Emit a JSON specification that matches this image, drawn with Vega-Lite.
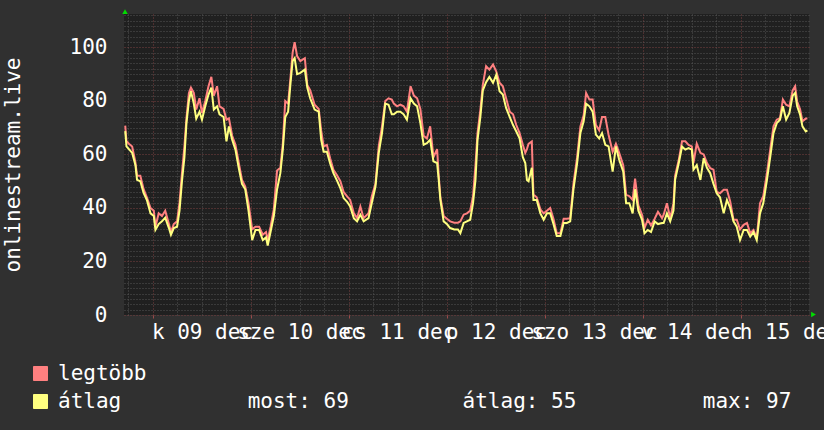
{
  "$schema": "https://vega.github.io/schema/vega-lite/v6.json",
  "width": 685,
  "height": 301,
  "autosize": "none",
  "padding": {"left": 124, "top": 14, "right": 15, "bottom": 115},
  "background": "#303030",
  "config": {
    "view": {"fill": "#202020", "stroke": null},
    "font": "DejaVu Sans Mono",
    "axis": {
      "labelFont": "DejaVu Sans Mono",
      "titleFont": "DejaVu Sans Mono",
      "labelColor": "#ffffff",
      "titleColor": "#ffffff",
      "labelFontSize": 21,
      "titleFontSize": 21,
      "titleFontWeight": "normal",
      "domain": false
    }
  },
  "data": {
    "values": [
      {"hour": -6.8, "max": 70.8, "avg": 68.7},
      {"hour": -6.5, "max": 65, "avg": 63},
      {"hour": -5.9, "max": 64, "avg": 62},
      {"hour": -5.1, "max": 63, "avg": 60.6},
      {"hour": -4.3, "max": 57, "avg": 56},
      {"hour": -3.9, "max": 52, "avg": 50.5},
      {"hour": -3.1, "max": 52, "avg": 50},
      {"hour": -2.3, "max": 47, "avg": 45.6},
      {"hour": -1.5, "max": 44, "avg": 43},
      {"hour": -0.6, "max": 40, "avg": 38},
      {"hour": 0.2, "max": 39, "avg": 37},
      {"hour": 0.6, "max": 33, "avg": 31.8},
      {"hour": 1.4, "max": 38, "avg": 34},
      {"hour": 2.2, "max": 37, "avg": 35},
      {"hour": 3.0, "max": 39, "avg": 36.4},
      {"hour": 3.9, "max": 34, "avg": 32.5},
      {"hour": 4.4, "max": 31, "avg": 30},
      {"hour": 5.1, "max": 34, "avg": 32.5},
      {"hour": 5.9, "max": 35, "avg": 33},
      {"hour": 6.5, "max": 42, "avg": 39},
      {"hour": 7.1, "max": 53, "avg": 50},
      {"hour": 7.7, "max": 63, "avg": 59},
      {"hour": 8.2, "max": 73.5, "avg": 71.7},
      {"hour": 8.8, "max": 83, "avg": 80},
      {"hour": 9.3, "max": 85, "avg": 83.6},
      {"hour": 10.0, "max": 83, "avg": 79},
      {"hour": 10.6, "max": 76.8, "avg": 73.4},
      {"hour": 11.4, "max": 81, "avg": 76},
      {"hour": 12.0, "max": 75.5, "avg": 73},
      {"hour": 12.8, "max": 80, "avg": 78},
      {"hour": 13.6, "max": 85.5, "avg": 82.4},
      {"hour": 14.3, "max": 89, "avg": 85},
      {"hour": 14.9, "max": 82, "avg": 76.8},
      {"hour": 15.7, "max": 85.5, "avg": 78},
      {"hour": 16.3, "max": 78, "avg": 75},
      {"hour": 17.3, "max": 77, "avg": 74},
      {"hour": 18.0, "max": 73, "avg": 64.9},
      {"hour": 18.6, "max": 73.5, "avg": 70.5},
      {"hour": 19.4, "max": 67, "avg": 65.5},
      {"hour": 20.2, "max": 63.6, "avg": 61.8},
      {"hour": 21.0, "max": 57, "avg": 55},
      {"hour": 21.8, "max": 50.5, "avg": 49},
      {"hour": 22.6, "max": 48, "avg": 47},
      {"hour": 23.4, "max": 41.8, "avg": 39},
      {"hour": 24.3, "max": 32, "avg": 28},
      {"hour": 25.1, "max": 33, "avg": 31.8},
      {"hour": 26.0, "max": 33, "avg": 31.8},
      {"hour": 26.9, "max": 30, "avg": 28},
      {"hour": 27.7, "max": 31, "avg": 29},
      {"hour": 28.1, "max": 28, "avg": 26},
      {"hour": 28.8, "max": 33, "avg": 31},
      {"hour": 29.6, "max": 39.5, "avg": 37},
      {"hour": 30.4, "max": 54, "avg": 47},
      {"hour": 31.2, "max": 55, "avg": 53},
      {"hour": 31.8, "max": 64, "avg": 61.8},
      {"hour": 32.4, "max": 80, "avg": 74},
      {"hour": 33.1, "max": 79, "avg": 76},
      {"hour": 33.7, "max": 89, "avg": 86.8},
      {"hour": 34.2, "max": 98, "avg": 94.9},
      {"hour": 34.7, "max": 102, "avg": 96},
      {"hour": 35.3, "max": 96.8, "avg": 90},
      {"hour": 36.1, "max": 94.9, "avg": 90.5},
      {"hour": 37.2, "max": 96, "avg": 91.7},
      {"hour": 37.8, "max": 86, "avg": 85},
      {"hour": 38.5, "max": 84, "avg": 81},
      {"hour": 39.6, "max": 78.6, "avg": 76.8},
      {"hour": 40.6, "max": 77, "avg": 76},
      {"hour": 41.2, "max": 69, "avg": 65.5},
      {"hour": 41.8, "max": 63, "avg": 61},
      {"hour": 42.6, "max": 63.6, "avg": 61},
      {"hour": 43.4, "max": 58.6, "avg": 56.6},
      {"hour": 44.2, "max": 54.3, "avg": 53},
      {"hour": 45.0, "max": 52.4, "avg": 50.5},
      {"hour": 45.9, "max": 50, "avg": 47.4},
      {"hour": 46.7, "max": 46, "avg": 43.7},
      {"hour": 47.5, "max": 44.4, "avg": 42.4},
      {"hour": 48.3, "max": 43, "avg": 40.6},
      {"hour": 49.2, "max": 38, "avg": 36.2},
      {"hour": 50.0, "max": 36.2, "avg": 35},
      {"hour": 50.8, "max": 40.6, "avg": 37.5},
      {"hour": 51.6, "max": 36.2, "avg": 35},
      {"hour": 52.8, "max": 38, "avg": 36.2},
      {"hour": 53.6, "max": 44.4, "avg": 41.8},
      {"hour": 54.5, "max": 49, "avg": 48},
      {"hour": 55.3, "max": 63, "avg": 60.5},
      {"hour": 56.1, "max": 70.5, "avg": 68},
      {"hour": 56.9, "max": 80, "avg": 79},
      {"hour": 57.7, "max": 81, "avg": 78.6},
      {"hour": 58.5, "max": 80.5, "avg": 75},
      {"hour": 59.0, "max": 79, "avg": 75},
      {"hour": 59.8, "max": 78, "avg": 76},
      {"hour": 60.6, "max": 78.6, "avg": 76},
      {"hour": 61.4, "max": 78, "avg": 75},
      {"hour": 62.2, "max": 76, "avg": 73},
      {"hour": 63.1, "max": 85.5, "avg": 81},
      {"hour": 63.9, "max": 82, "avg": 79},
      {"hour": 64.7, "max": 81, "avg": 78},
      {"hour": 65.5, "max": 77, "avg": 71.7},
      {"hour": 66.3, "max": 67, "avg": 63.6},
      {"hour": 67.1, "max": 66, "avg": 64.2},
      {"hour": 67.9, "max": 70.5, "avg": 65.5},
      {"hour": 68.7, "max": 59, "avg": 57.4},
      {"hour": 69.6, "max": 62, "avg": 56.8},
      {"hour": 70.0, "max": 52, "avg": 50.5},
      {"hour": 70.4, "max": 44, "avg": 43},
      {"hour": 71.2, "max": 37, "avg": 35},
      {"hour": 72.0, "max": 36, "avg": 34},
      {"hour": 72.8, "max": 35, "avg": 32.5},
      {"hour": 73.8, "max": 34.5, "avg": 32},
      {"hour": 74.7, "max": 34.5, "avg": 32},
      {"hour": 75.3, "max": 35, "avg": 30.6},
      {"hour": 76.1, "max": 37.5, "avg": 34.4},
      {"hour": 76.9, "max": 38, "avg": 35},
      {"hour": 77.7, "max": 39, "avg": 35.6},
      {"hour": 78.4, "max": 44.4, "avg": 41.8},
      {"hour": 79.0, "max": 56, "avg": 50.5},
      {"hour": 79.5, "max": 68, "avg": 65.5},
      {"hour": 80.2, "max": 76.8, "avg": 74},
      {"hour": 80.8, "max": 86, "avg": 84},
      {"hour": 81.6, "max": 93, "avg": 87},
      {"hour": 82.4, "max": 91.7, "avg": 89},
      {"hour": 83.3, "max": 93.6, "avg": 86.8},
      {"hour": 84.1, "max": 91, "avg": 89.8},
      {"hour": 84.9, "max": 86.8, "avg": 83.6},
      {"hour": 85.7, "max": 85.5, "avg": 82.4},
      {"hour": 86.5, "max": 81, "avg": 77.4},
      {"hour": 87.4, "max": 76, "avg": 74},
      {"hour": 88.2, "max": 75, "avg": 71},
      {"hour": 89.0, "max": 71, "avg": 68.6},
      {"hour": 89.8, "max": 68, "avg": 66},
      {"hour": 90.6, "max": 63.6, "avg": 59},
      {"hour": 91.2, "max": 60.6, "avg": 56.8},
      {"hour": 91.6, "max": 62, "avg": 50.5},
      {"hour": 92.0, "max": 64, "avg": 50},
      {"hour": 92.8, "max": 64.9, "avg": 55},
      {"hour": 93.2, "max": 45, "avg": 43},
      {"hour": 94.0, "max": 44, "avg": 43},
      {"hour": 94.9, "max": 39.5, "avg": 38},
      {"hour": 95.7, "max": 38, "avg": 35.6},
      {"hour": 96.5, "max": 39, "avg": 38},
      {"hour": 97.3, "max": 40, "avg": 38},
      {"hour": 98.1, "max": 36, "avg": 34},
      {"hour": 98.9, "max": 30.6, "avg": 29.5},
      {"hour": 99.8, "max": 30.6, "avg": 29.5},
      {"hour": 100.6, "max": 36, "avg": 34.4},
      {"hour": 101.4, "max": 36, "avg": 34.4},
      {"hour": 102.2, "max": 36.2, "avg": 35},
      {"hour": 103.0, "max": 49, "avg": 47},
      {"hour": 103.9, "max": 59, "avg": 56.8},
      {"hour": 104.7, "max": 70.5, "avg": 68},
      {"hour": 105.5, "max": 74.6, "avg": 72.4},
      {"hour": 106.1, "max": 83, "avg": 79},
      {"hour": 106.9, "max": 80.5, "avg": 78},
      {"hour": 107.7, "max": 80.5, "avg": 76},
      {"hour": 108.5, "max": 71, "avg": 67.4},
      {"hour": 109.3, "max": 69, "avg": 66},
      {"hour": 110.0, "max": 74, "avg": 68},
      {"hour": 110.8, "max": 74, "avg": 63.6},
      {"hour": 111.6, "max": 67.4, "avg": 63},
      {"hour": 112.6, "max": 61, "avg": 53.6},
      {"hour": 113.4, "max": 64, "avg": 63},
      {"hour": 114.2, "max": 60.6, "avg": 58},
      {"hour": 115.2, "max": 56, "avg": 53.6},
      {"hour": 115.9, "max": 45, "avg": 41.8},
      {"hour": 116.7, "max": 44.4, "avg": 41.8},
      {"hour": 117.5, "max": 43, "avg": 38},
      {"hour": 118.1, "max": 51, "avg": 47},
      {"hour": 118.9, "max": 41, "avg": 39},
      {"hour": 119.8, "max": 37.5, "avg": 35.6},
      {"hour": 120.4, "max": 32.5, "avg": 30.6},
      {"hour": 121.2, "max": 35.6, "avg": 31.8},
      {"hour": 122.0, "max": 33.5, "avg": 31},
      {"hour": 122.9, "max": 36, "avg": 35},
      {"hour": 123.7, "max": 38.6, "avg": 34},
      {"hour": 124.7, "max": 36.2, "avg": 34.4},
      {"hour": 125.1, "max": 37.5, "avg": 34.4},
      {"hour": 125.9, "max": 41.8, "avg": 38},
      {"hour": 126.7, "max": 36.2, "avg": 35},
      {"hour": 127.5, "max": 41.8, "avg": 39},
      {"hour": 127.9, "max": 52, "avg": 50.5},
      {"hour": 128.8, "max": 58, "avg": 56.8},
      {"hour": 129.6, "max": 64.9, "avg": 63},
      {"hour": 130.4, "max": 64.9, "avg": 61.8},
      {"hour": 131.2, "max": 63.6, "avg": 62.4},
      {"hour": 132.0, "max": 63, "avg": 61.8},
      {"hour": 132.4, "max": 56.8, "avg": 54.3},
      {"hour": 133.2, "max": 64, "avg": 56},
      {"hour": 134.1, "max": 60.6, "avg": 50.5},
      {"hour": 134.9, "max": 60, "avg": 58.6},
      {"hour": 135.7, "max": 56.8, "avg": 55},
      {"hour": 136.5, "max": 54.9, "avg": 53},
      {"hour": 137.3, "max": 54.3, "avg": 49},
      {"hour": 138.1, "max": 46, "avg": 45.5},
      {"hour": 138.9, "max": 45.5, "avg": 44},
      {"hour": 139.8, "max": 46.8, "avg": 38},
      {"hour": 140.6, "max": 46.8, "avg": 43},
      {"hour": 141.4, "max": 42.4, "avg": 40},
      {"hour": 142.2, "max": 35.6, "avg": 35},
      {"hour": 143.0, "max": 35.6, "avg": 33},
      {"hour": 143.8, "max": 32, "avg": 28},
      {"hour": 144.7, "max": 33.7, "avg": 31.8},
      {"hour": 145.5, "max": 34.4, "avg": 31.8},
      {"hour": 146.3, "max": 30.6, "avg": 29.3},
      {"hour": 147.1, "max": 31.8, "avg": 31},
      {"hour": 147.9, "max": 28.7, "avg": 28},
      {"hour": 148.7, "max": 41.8, "avg": 38},
      {"hour": 149.5, "max": 44.4, "avg": 41.8},
      {"hour": 150.4, "max": 53, "avg": 50.5},
      {"hour": 151.2, "max": 61.8, "avg": 59},
      {"hour": 152.0, "max": 70.5, "avg": 68},
      {"hour": 152.8, "max": 73, "avg": 71.7},
      {"hour": 153.6, "max": 73.6, "avg": 73},
      {"hour": 154.3, "max": 80.5, "avg": 78},
      {"hour": 155.1, "max": 78.6, "avg": 73},
      {"hour": 155.9, "max": 78, "avg": 75.5},
      {"hour": 156.7, "max": 84, "avg": 82},
      {"hour": 157.3, "max": 85.5, "avg": 83},
      {"hour": 157.8, "max": 79.8, "avg": 78},
      {"hour": 158.5, "max": 77, "avg": 75},
      {"hour": 159.1, "max": 72.4, "avg": 70.5},
      {"hour": 159.9, "max": 73.4, "avg": 68.6},
      {"hour": 160.3, "max": 73.4, "avg": 69}
    ]
  },
  "resolve": {"axis": {"x": "independent", "y": "independent"}},
  "layer": [
    {
      "mark": {"type": "line", "strokeWidth": 2, "interpolate": "linear"},
      "encoding": {
        "x": {
          "field": "hour", "type": "quantitative",
          "scale": {"domain": [-7.1, 160.7], "nice": false, "zero": false},
          "axis": {
            "orient": "bottom", "title": null,
            "values": [-6, 6, 12, 18, 30, 36, 42, 54, 60, 66, 78, 84, 90, 102, 108, 114, 126, 132, 138, 150, 156],
            "grid": true, "gridColor": "#555555", "gridDash": [1, 2], "gridWidth": 1,
            "ticks": false, "tickSize": 0, "labelPadding": 6,
            "labelOverlap": false, "labelBound": false, "labelFlush": false,
            "labelExpr": "datum.value % 24 == 12 ? ['k 09 dec','sze 10 dec','cs 11 dec','p 12 dec','szo 13 dec','v 14 dec','h 15 dec'][(datum.value - 12) / 24] : ''"
          }
        },
        "y": {
          "field": "max", "type": "quantitative",
          "scale": {"domain": [0, 112.5], "nice": false},
          "axis": {
            "orient": "left", "title": null, "labels": false, "ticks": false,
            "values": [2, 4, 6, 8, 10, 12, 14, 16, 18, 22, 24, 26, 28, 30, 32, 34, 36, 38, 42, 44, 46, 48, 50, 52, 54, 56, 58, 62, 64, 66, 68, 70, 72, 74, 76, 78, 82, 84, 86, 88, 90, 92, 94, 96, 98, 102, 104, 106, 108, 110, 112],
            "grid": true, "gridColor": "#555555", "gridDash": [1, 2], "gridWidth": 1
          }
        },
        "color": {
          "datum": "legtöbb", "type": "nominal",
          "scale": {"domain": ["legtöbb", "átlag"], "range": ["#ff8080", "#ffff80"]},
          "legend": {
            "orient": "none", "legendX": -94, "legendY": 349, "title": null,
            "direction": "vertical",
            "symbolType": "square", "symbolSize": 196,
            "labelFont": "DejaVu Sans Mono", "labelFontSize": 21, "labelColor": "#ffffff",
            "labelLimit": 0, "labelOffset": 7, "rowPadding": 6,
            "labelExpr": "datum.label == 'átlag' ? 'átlag\u00a0\u00a0\u00a0\u00a0\u00a0\u00a0\u00a0\u00a0\u00a0\u00a0most: 69\u00a0\u00a0\u00a0\u00a0\u00a0\u00a0\u00a0\u00a0\u00a0átlag: 55\u00a0\u00a0\u00a0\u00a0\u00a0\u00a0\u00a0\u00a0\u00a0\u00a0max: 97' : datum.label",
            "encode": {
              "symbols": {
                "update": {
                  "fill": {"scale": "color", "field": "value"},
                  "stroke": {"value": "#000000"},
                  "strokeWidth": {"value": 1},
                  "opacity": {"value": 1}
                }
              }
            }
          }
        }
      }
    },
    {
      "mark": {"type": "line", "strokeWidth": 2, "interpolate": "linear"},
      "encoding": {
        "x": {
          "field": "hour", "type": "quantitative",
          "axis": {
            "orient": "bottom", "title": null, "labels": false,
            "values": [0, 24, 48, 72, 96, 120, 144],
            "grid": true, "gridColor": "#7a4040", "gridDash": [1, 2], "gridWidth": 1,
            "ticks": true, "tickSize": 3, "tickColor": "#9a4a4a"
          }
        },
        "y": {
          "field": "avg", "type": "quantitative",
          "axis": {
            "orient": "left",
            "title": "onlinestream.live",
            "titleX": -105, "titleY": 150.5, "titleBaseline": "alphabetic", "titleAngle": -90,
            "values": [0, 20, 40, 60, 80, 100],
            "grid": true, "gridColor": "#7a4040", "gridDash": [1, 2], "gridWidth": 1,
            "ticks": false, "tickSize": 0, "labelPadding": 17
          }
        },
        "color": {"datum": "átlag", "type": "nominal"}
      }
    },
    {
      "data": {"values": [{}]},
      "mark": {"type": "point", "shape": "triangle-up", "filled": true, "size": 30, "color": "#00dd00", "opacity": 1},
      "encoding": {
        "x": {"datum": -6.85, "type": "quantitative", "axis": null},
        "y": {"datum": 113.4, "type": "quantitative", "axis": null}
      }
    },
    {
      "data": {"values": [{}]},
      "mark": {"type": "point", "shape": "triangle-right", "filled": true, "size": 30, "color": "#00dd00", "opacity": 1},
      "encoding": {
        "x": {"datum": 161.8, "type": "quantitative", "axis": null},
        "y": {"datum": 0.2, "type": "quantitative", "axis": null}
      }
    }
  ]
}
